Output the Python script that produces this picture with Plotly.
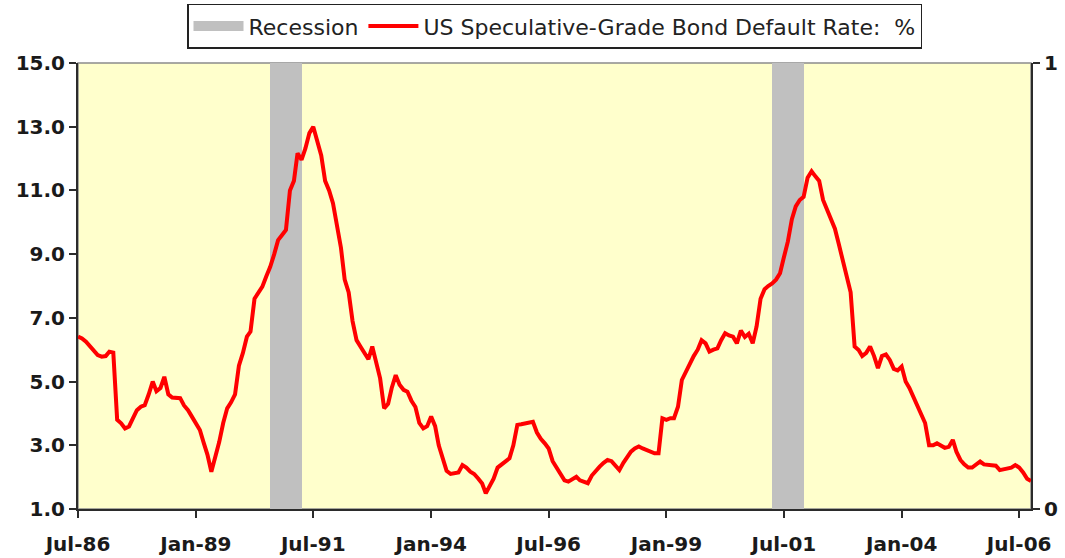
import pandas as pd
import plotly.graph_objects as go

# ---- data -------------------------------------------------------------
start_month = "1986-07-01"   # first monthly observation
default_rate = [
    6.41, 6.35, 6.25, 6.10, 5.95, 5.83, 5.78, 5.80, 5.94, 5.91, 3.80, 3.69,
    3.53, 3.59, 3.85, 4.10, 4.21, 4.26, 4.60, 5.00, 4.70, 4.80, 5.15, 4.60,
    4.50, 4.50, 4.48, 4.25, 4.10, 3.90, 3.69, 3.48, 3.10, 2.70, 2.17, 2.60,
    3.10, 3.70, 4.16, 4.35, 4.60, 5.50, 5.90, 6.41, 6.57, 7.60, 7.80, 7.98,
    8.30, 8.60, 9.00, 9.44, 9.60, 9.76, 11.00, 11.30, 12.17, 11.96, 12.32, 12.80,
    13.00, 12.60, 12.10, 11.30, 11.00, 10.60, 9.80, 9.20, 8.20, 7.80, 6.90, 6.30,
    6.10, 5.90, 5.70, 6.10, 5.60, 5.10, 4.16, 4.30, 4.80, 5.20, 4.90, 4.74,
    4.68, 4.40, 4.20, 3.70, 3.53, 3.60, 3.90, 3.60, 3.00, 2.64, 2.20, 2.10,
    2.12, 2.15, 2.38, 2.30, 2.17, 2.10, 1.96, 1.80, 1.49, 1.70, 1.95, 2.30,
    2.40, 2.50, 2.59, 3.00, 3.64, 3.66, 3.69, 3.72, 3.74, 3.40, 3.20, 3.06,
    2.90, 2.50, 2.30, 2.10, 1.90, 1.86, 1.95, 2.01, 1.90, 1.85, 1.81, 2.05,
    2.20, 2.33, 2.45, 2.54, 2.50, 2.35, 2.22, 2.45, 2.64, 2.80, 2.90, 2.96,
    2.90, 2.85, 2.80, 2.75, 2.75, 3.85, 3.80, 3.85, 3.85, 4.21, 5.05, 5.30,
    5.58, 5.80, 6.00, 6.30, 6.20, 5.94, 6.00, 6.04, 6.30, 6.52, 6.45, 6.41,
    6.20, 6.60, 6.40, 6.50, 6.20, 6.73, 7.60, 7.90, 8.00, 8.08, 8.20, 8.40,
    8.90, 9.40, 10.10, 10.50, 10.70, 10.80, 11.40, 11.60, 11.45, 11.30, 10.70, 10.40,
    10.10, 9.80, 9.30, 8.80, 8.20, 7.80, 6.10, 5.99, 5.80, 5.90, 6.10, 5.80,
    5.42, 5.80, 5.85, 5.68, 5.40, 5.35, 5.47, 5.00, 4.80, 4.53, 4.30, 4.00,
    3.70, 3.00, 3.00, 3.06, 3.00, 2.92, 2.95, 3.17, 2.80, 2.54, 2.40, 2.30,
    2.30, 2.40, 2.49, 2.40, 2.38, 2.38, 2.36, 2.22, 2.25, 2.28, 2.30, 2.38,
    2.30, 2.15, 1.95, 1.88,
]
recession_starts = ["1990-08-01", "2001-04-01"]
recession_ends = ["1991-03-01", "2001-11-01"]   # last recession month
tick_dates = ["1986-07-01", "1989-01-01", "1991-07-01", "1994-01-01", "1996-07-01",
              "1999-01-01", "2001-07-01", "2004-01-01", "2006-07-01"]
tick_labels = ["Jul-86", "Jan-89", "Jul-91", "Jan-94", "Jul-96",
               "Jan-99", "Jul-01", "Jan-04", "Jul-06"]
y_ticks = [1, 3, 5, 7, 9, 11, 13, 15]
series_name = "US Speculative-Grade Bond Default Rate:  %"

# ---- derived ----------------------------------------------------------
dates = pd.date_range(start_month, periods=len(default_rate), freq="MS")
rec_x, rec_w = [], []
for s, e in zip(recession_starts, recession_ends):
    for d in pd.date_range(s, e, freq="MS"):
        nxt = d + pd.offsets.MonthBegin(1)
        rec_x.append(d)
        rec_w.append((nxt - d).total_seconds() * 1000 + 3.6e6)
rec_y = [1] * len(rec_x)

xr = [dates[0], dates[-1]]
AX = "#2b2b2b"
tickfont = dict(family="DejaVu Sans", size=20, color="#1a1a1a", weight="bold")

fig = go.Figure()
# recession bars on the primary (right-hand 0..1) axis so they sit beneath the line
fig.add_trace(go.Bar(x=rec_x, y=rec_y, width=rec_w, offset=0, yaxis="y",
                     marker=dict(color="#C0C0C0", line=dict(width=0)),
                     name="Recession", showlegend=False, hoverinfo="skip"))
# legend entry for recession (wide grey swatch)
fig.add_trace(go.Scatter(x=[None], y=[None], mode="lines", name="Recession",
                         yaxis="y2", line=dict(color="#C0C0C0", width=13)))
fig.add_trace(go.Scatter(x=dates, y=default_rate, mode="lines", name=series_name,
                         yaxis="y2", line=dict(color="#FF0000", width=4)))

fig.update_layout(
    width=1065, height=558,
    margin=dict(l=78, r=34, t=63, b=49, autoexpand=False),
    paper_bgcolor="white", plot_bgcolor="#FFFFCC",
    bargap=0,
    font=dict(family="DejaVu Sans", color="#1a1a1a"),
    showlegend=True,
    legend=dict(orientation="h", x=0.5, xanchor="center", y=1.133, yanchor="top",
                bgcolor="white", bordercolor="#222", borderwidth=1.5,
                font=dict(family="DejaVu Sans", size=22, color="#222"),
                itemwidth=50, traceorder="normal"),
    xaxis=dict(type="date", range=xr, tickvals=tick_dates, ticktext=tick_labels,
               showgrid=False, zeroline=False, showline=True, linecolor=AX, linewidth=2,
               ticks="outside", ticklen=7, tickwidth=1.5, tickcolor=AX,
               tickfont=tickfont, ticklabelstandoff=9, automargin=False),
    xaxis3=dict(type="date", range=xr, tickvals=tick_dates, overlaying="x", anchor="y",
                showticklabels=False, showgrid=False, zeroline=False, showline=False,
                ticks="inside", ticklen=7, tickwidth=1.5, tickcolor=AX, automargin=False),
    yaxis=dict(range=[0, 1], tickvals=[0, 1], ticktext=["0", "1"],
               side="right", anchor="x", showgrid=False, zeroline=False,
               showline=True, linecolor=AX, linewidth=2,
               ticks="outside", ticklen=7, tickwidth=1.5, tickcolor=AX,
               tickfont=tickfont, automargin=False),
    yaxis2=dict(range=[1, 15], tickvals=y_ticks, ticktext=[f"{v:.1f}" for v in y_ticks],
                overlaying="y", side="left", anchor="x",
                showgrid=False, zeroline=False, showline=True, linecolor=AX, linewidth=2,
                ticks="outside", ticklen=7, tickwidth=1.5, tickcolor=AX,
                tickfont=tickfont, automargin=False),
    yaxis3=dict(range=[1, 15], tickvals=y_ticks, overlaying="y", anchor="x", side="left",
                showticklabels=False, showgrid=False, zeroline=False, showline=False,
                ticks="inside", ticklen=7, tickwidth=1.5, tickcolor=AX, automargin=False),
    shapes=[dict(type="rect", xref="paper", yref="paper", x0=0, x1=1, y0=0, y1=1,
                 line=dict(color="#8c8c8c", width=1.5), layer="below")],
)

fig.write_html("out.html")
